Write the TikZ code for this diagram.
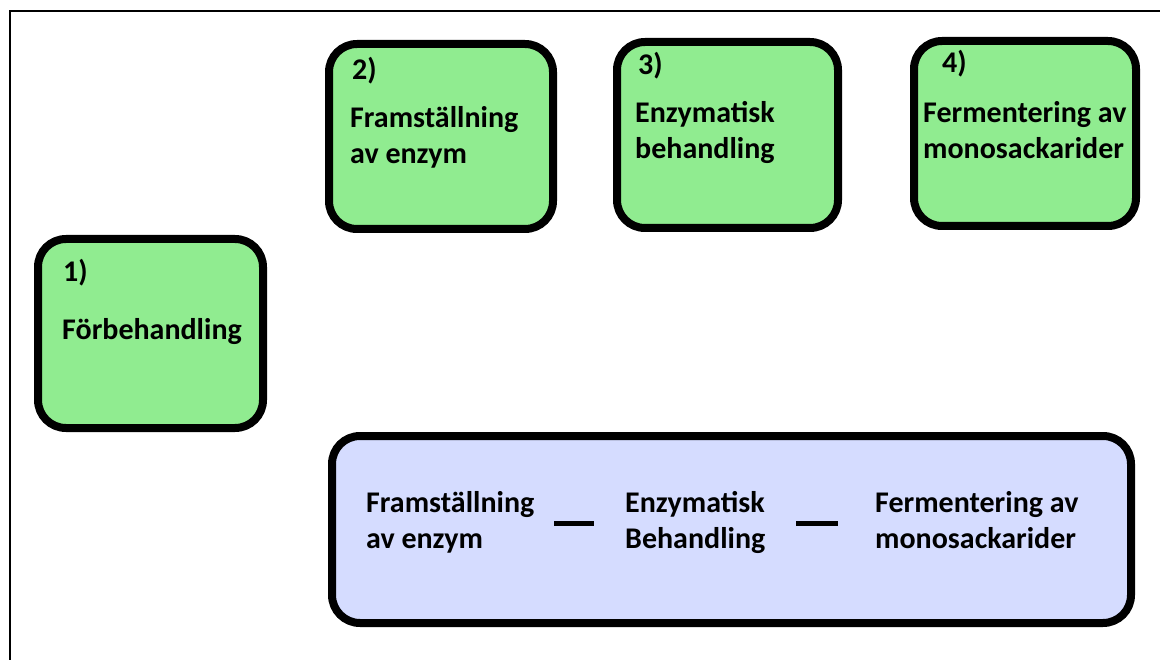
\documentclass[tikz,border=0pt]{standalone}
\usepackage{fontspec}
\setmainfont{Carlito}
\usetikzlibrary{positioning}
\definecolor{stepgreen}{RGB}{144,236,144}
\definecolor{sumblue}{RGB}{213,220,255}
\tikzset{
  stepbox/.style={draw, line width=8pt, rounded corners=28pt, fill=stepgreen},
  sumbox/.style={stepbox, fill=sumblue},
  steptext/.style={anchor=base west, inner sep=0pt, align=left,
    font=\fontsize{30}{36}\selectfont\bfseries},
  dashbar/.style={line width=5pt},
}
\begin{document}
\begin{tikzpicture}[x=1pt,y=-1pt]
  \useasboundingbox (0,0) rectangle (1160,660);
  \draw[line width=2.5pt] (10,660) -- (10,11) -- (1160,11);

  % the four steps
  \node[stepbox, minimum width=225pt, minimum height=189pt] (pre) at (150.5,333.5) {};
  \node[stepbox, minimum width=224pt, minimum height=185pt] (enz) at (441,136.5) {};
  \node[stepbox, minimum width=221pt, minimum height=186pt] (hyd) at (727.5,135) {};
  \node[stepbox, minimum width=222pt, minimum height=185pt] (fer) at (1025,133.5) {};

  % texts, anchored at the baseline of their last line
  \node[steptext] (pre1) at (63,282) {1)};
  \node[steptext] (pre2) at (62,340) {Förbehandling};
  \node[steptext] (enz1) at (352,80) {2)};
  \node[steptext] (enz2) at (350,164) {Framställning\\av enzym};
  \node[steptext] (hyd1) at (638,75) {3)};
  \node[steptext] (hyd2) at (635,159) {Enzymatisk\\behandling};
  \node[steptext] (fer1) at (942,73) {4)};
  \node[steptext] (fer2) at (923,159) {Fermentering av\\monosackarider};

  % combined process
  \node[sumbox, minimum width=799pt, minimum height=187pt] (sum) at (731.5,529.5) {};
  \node[steptext] (sa) at (366,548) {Framställning\\av enzym};
  \node[steptext] (sb) at (625,548) {Enzymatisk\\Behandling};
  \node[steptext] (sc) at (875,548) {Fermentering av\\monosackarider};
  \coordinate (dashrow) at (0,523);
  \draw[dashbar, shorten <=20pt, shorten >=31pt] (sa.east |- dashrow) -- (sb.west |- dashrow);
  \draw[dashbar, shorten <=31pt, shorten >=37pt] (sb.east |- dashrow) -- (sc.west |- dashrow);
\end{tikzpicture}
\end{document}
